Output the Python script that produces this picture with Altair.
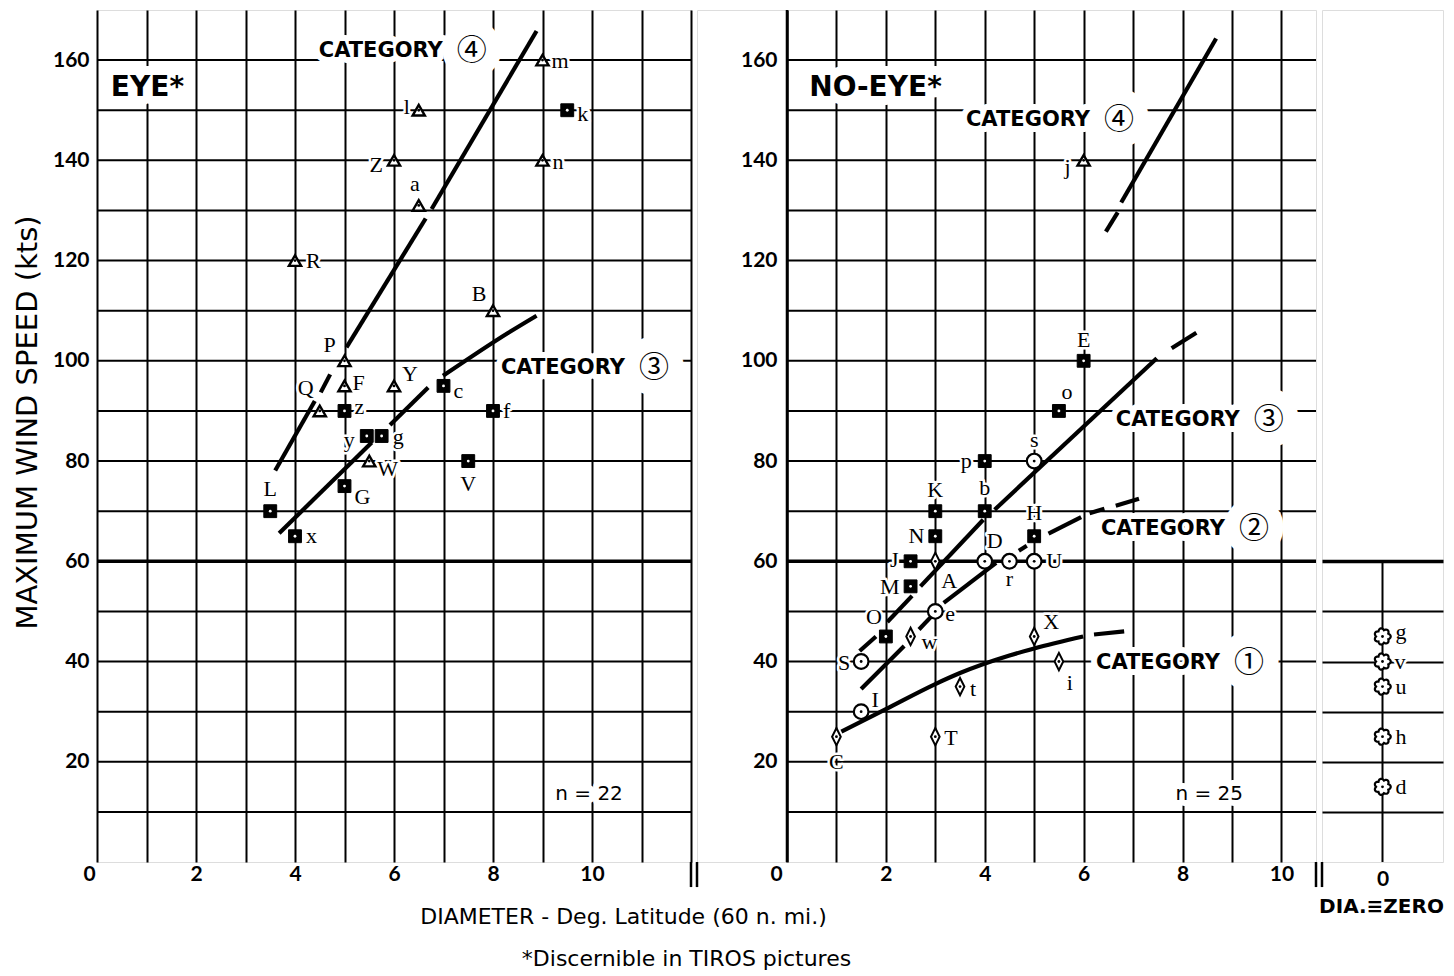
import math
import altair as alt
import pandas as pd

# ------------------------------------------------------------------ data
# EYE* panel : open triangles
eye_tri_lab = ["m", "l", "Z", "n", "a", "R", "B", "P", "Q", "F", "Y", "W"]
eye_tri_x = [9.0, 6.5, 6.0, 9.0, 6.5, 4.0, 8.0, 5.0, 4.5, 5.0, 6.0, 5.5]
eye_tri_y = [160, 150, 140, 140, 131, 120, 110, 100, 90, 95, 95, 80]
# EYE* panel : filled squares
eye_sq_lab = ["k", "z", "c", "f", "y", "g", "V", "G", "L", "x"]
eye_sq_x = [9.5, 5.0, 7.0, 8.0, 5.45, 5.75, 7.5, 5.0, 3.5, 4.0]
eye_sq_y = [150, 90, 95, 90, 85, 85, 80, 75, 70, 65]

# NO-EYE* panel
ne_tri_lab = ["j"]
ne_tri_x = [6.0]
ne_tri_y = [140]
ne_sq_lab = ["E", "o", "p", "K", "b", "H", "N", "J", "M", "O"]
ne_sq_x = [6.0, 5.5, 4.0, 3.0, 4.0, 5.0, 3.0, 2.5, 2.5, 2.0]
ne_sq_y = [100, 90, 80, 70, 70, 65, 65, 60, 55, 45]
ne_circ_lab = ["s", "D", "r", "U", "e", "S", "I"]
ne_circ_x = [5.0, 4.0, 4.5, 5.0, 3.0, 1.5, 1.5]
ne_circ_y = [80, 60, 60, 60, 50, 40, 30]
ne_dia_lab = ["A", "w", "X", "i", "t", "T", "C"]
ne_dia_x = [3.0, 2.5, 5.0, 5.5, 3.5, 3.0, 1.0]
ne_dia_y = [60, 45, 45, 40, 35, 25, 25]

# DIA = ZERO panel
zero_lab = ["g", "v", "u", "h", "d"]
zero_x = [0, 0, 0, 0, 0]
zero_y = [45, 40, 35, 25, 15]

# category curves, as drawn (broken into pieces)
eye_cat4 = [[(3.60, 78.1), (4.40, 92.0)], [(4.52, 93.7), (4.71, 97.3)],
            [(5.04, 102.7), (6.64, 128.4)], [(6.76, 130.3), (8.88, 165.8)]]
eye_cat3 = [[(3.68, 65.6), (5.55, 83.7)], [(5.92, 87.2), (6.69, 94.7)],
            [(6.99, 97.0), (8.31, 105.6), (8.88, 109.0)]]
ne_cat4 = [[(6.45, 125.8), (6.69, 129.6)], [(6.76, 131.6), (8.68, 164.3)]]
ne_cat3 = [[(1.47, 42.1), (1.80, 45.0)], [(2.03, 47.9), (2.53, 53.1)],
           [(2.70, 55.0), (3.97, 68.3)], [(4.20, 70.3), (7.48, 100.5)],
           [(7.78, 102.5), (8.28, 105.6)]]
ne_cat2 = [[(1.50, 34.5), (2.37, 43.1)], [(2.67, 46.4), (2.97, 49.5)],
           [(3.17, 51.7), (4.23, 59.7)], [(4.69, 62.1), (4.85, 63.1)],
           [(5.29, 65.5), (5.95, 68.8)], [(6.12, 69.6), (6.42, 70.5)],
           [(6.65, 71.1), (7.12, 72.5)]]
ne_cat1 = [[(1.10, 26.0), (2.0, 30.5), (3.0, 35.5), (3.5, 37.7), (4.5, 41.2), (5.0, 42.6),
            (5.99, 45.0)],
           [(6.21, 45.4), (6.82, 46.0)]]

# ticks / grid
eye_x_ticks = list(range(0, 13))
ne_x_ticks = list(range(0, 11))
zero_x_ticks = [0]
y_grid = list(range(10, 161, 10))
y_labels = list(range(20, 161, 20))
zero_grid = [10, 20, 30, 40, 50, 60]

# texts
y_title = "MAXIMUM WIND SPEED (kts)"
x_title = "DIAMETER - Deg. Latitude (60 n. mi.)"
footnote = "*Discernible in TIROS pictures"
zero_title = "DIA.\u2261ZERO"
eye_tag = ["EYE*"]
ne_tag = ["NO-EYE*"]
cat_word = "CATEGORY"
eye_cat_num = ["\u2463", "\u2462"]
ne_cat_num = ["\u2463", "\u2462", "\u2461", "\u2460"]
eye_n_text = ["n = 22"]
ne_n_text = ["n = 25"]

# ------------------------------------------------------------------ layout (annotation anchors / label offsets)
eye_tag_pos = [(0.28, 154.4)]
ne_tag_pos = [(0.45, 154.4)]
eye_cat_pos = [(4.48, 161.9), (8.16, 98.6)]
ne_cat_pos = [(3.62, 148.1), (6.65, 88.2), (6.35, 66.5), (6.25, 39.75)]
eye_n_pos = [(9.94, 13.6)]
ne_n_pos = [(8.54, 13.6)]

LT, RT, CT = "left", "right", "center"
eye_off = {
    "m": (9, 1, LT), "l": (-9, -3, RT), "k": (10, 4, LT), "Z": (-11, 5, RT), "n": (10, 2, LT),
    "a": (-4, -21, CT), "R": (11, 0, LT), "B": (-14, -17, CT), "P": (-15, -16, CT),
    "Q": (-14, -23, CT), "F": (8, -3, LT), "Y": (8, -12, LT), "z": (10, -4, LT),
    "c": (10, 5, LT), "f": (10, 0, LT), "y": (-12, 4, RT), "g": (11, 1, LT),
    "W": (8, 8, LT), "V": (0, 23, CT), "G": (10, 11, LT), "L": (0, -22, CT), "x": (11, 0, LT),
}
ne_off = {
    "j": (-13, 7, RT), "E": (0, -21, CT), "o": (8, -19, CT), "s": (0, -21, CT),
    "p": (-13, 0, RT), "K": (0, -21, CT), "b": (0, -23, CT), "H": (0, -23, CT),
    "N": (-11, 0, RT), "J": (-12, -1, RT), "A": (14, 20, CT), "D": (10, -20, CT),
    "r": (0, 18, CT), "U": (12, 0, LT), "M": (-11, 1, RT), "e": (10, 3, LT),
    "O": (-12, -19, CT), "w": (11, 6, LT), "X": (17, -14, CT), "S": (-11, 1, RT),
    "i": (11, 21, CT), "t": (10, 2, LT), "I": (14, -12, CT), "T": (9, 1, LT), "C": (0, 25, CT),
}
zero_off = {"g": (13, -4, LT), "v": (12, 0, LT), "u": (13, 0, LT), "h": (13, 0, LT), "d": (13, 0, LT)}

TICK_FONT = "Lato"
SERIF = "Liberation Serif"
SANS = "DejaVu Sans"
CJK = "Noto Sans CJK JP"

W1, W2, W3, H = 594, 619, 121, 852
X1 = alt.Scale(domain=[0, 12], nice=False, zero=False)
X2 = alt.Scale(domain=[-1.82, 10.7], nice=False, zero=False)
X3 = alt.Scale(domain=[-1.22, 1.22], nice=False, zero=False)
YS = alt.Scale(domain=[0, 170], nice=False, zero=False)

GW = 2.0
lab_style = dict(labelFont=TICK_FONT, labelFontWeight="bold", labelFontSize=21,
                 labelColor="black", labelOverlap=False, labelFlush=False, labelBound=False)
even_expr = "datum.value % 2 == 0 && datum.value <= 10 ? datum.label : ''"

ax1x = alt.Axis(values=eye_x_ticks, grid=True, gridColor="black", gridWidth=GW, gridOpacity=1,
                ticks=False, domain=False, labelExpr=even_expr, labelPadding=1,
                labelOffset=alt.condition("datum.value == 0", alt.value(-8), alt.value(0)),
                title=x_title, titleFont=SANS, titleFontSize=22, titleFontWeight="normal",
                titleColor="black", titleX=526, titleY=54, titleAlign="center",
                titleBaseline="middle", **lab_style)
ax1y = alt.Axis(values=y_labels, grid=False, ticks=False, domain=False, labelPadding=8,
                title=y_title, titleFont=SANS, titleFontSize=29, titleFontWeight="normal",
                titleColor="black", titlePadding=10, titleY=412, **lab_style)
ax2x = alt.Axis(values=ne_x_ticks, grid=True, gridColor="black", gridOpacity=1,
                gridWidth=alt.condition("datum.value == 0", alt.value(2.5), alt.value(GW)),
                ticks=False, domain=False, labelExpr=even_expr, labelPadding=1,
                labelOffset=alt.condition("datum.value == 0", alt.value(-11), alt.value(0)),
                title=footnote, titleFont=SANS, titleFontSize=22, titleFontWeight="normal",
                titleColor="black", titleX=-11, titleY=96, titleAlign="center",
                titleBaseline="middle", **lab_style)
ax2y = alt.Axis(values=y_labels, grid=False, ticks=False, domain=False, offset=-90,
                labelPadding=10, title=None, **lab_style)
ax3x = alt.Axis(values=zero_x_ticks, grid=False, ticks=False, domain=False, labelPadding=6,
                title=zero_title, titleFont=SANS, titleFontSize=20, titleFontWeight="bold",
                titleColor="black", titleX=59, titleY=44, titleAlign="center",
                titleBaseline="middle", **lab_style)
ax3y = alt.Axis(values=zero_grid, grid=True, gridColor="black", gridOpacity=1,
                gridWidth=alt.condition("datum.value == 60", alt.value(3.5), alt.value(GW)),
                labels=False, ticks=False, domain=False, title=None)


def E(xs, xa, ya):
    return dict(x=alt.X("x:Q", scale=xs, axis=xa), y=alt.Y("y:Q", scale=YS, axis=ya))


def pts(labs, xs, ys):
    return pd.DataFrame({"lab": labs, "x": xs, "y": ys})


def segs_df(segs):
    rows = []
    for i, seg in enumerate(segs):
        for j, (x, y) in enumerate(seg):
            rows.append({"seg": i, "ord": j, "x": x, "y": y})
    return pd.DataFrame(rows)


def cloud_path(bumps=7, n=70):
    c = []
    for k in range(n):
        th = 2 * math.pi * k / n
        r = 0.78 + 0.22 * abs(math.cos(bumps * th / 2))
        c.append(f"{r * math.cos(th):.3f},{r * math.sin(th):.3f}")
    return "M" + "L".join(c) + "Z"


DIAMOND = "M0,-1L0.5,0L0,1L-0.5,0Z"


def markers(df, kind, enc):
    base = alt.Chart(df).encode(**enc)
    if kind == "tri":
        outer = base.mark_point(shape="triangle-up", size=150, filled=True, fill="white",
                                stroke="black", strokeWidth=2.4, opacity=1)
        dot = "black"
    elif kind == "sq":
        outer = base.mark_point(shape="square", size=165, filled=True, fill="black",
                                stroke="black", strokeWidth=1, opacity=1)
        dot = "white"
    elif kind == "circ":
        outer = base.mark_point(shape="circle", size=215, filled=True, fill="white",
                                stroke="black", strokeWidth=2.2, opacity=1)
        dot = "black"
    elif kind == "dia":
        outer = base.mark_point(shape=DIAMOND, size=300, filled=True, fill="white",
                                stroke="black", strokeWidth=2, opacity=1)
        dot = "black"
    else:
        outer = base.mark_point(shape=cloud_path(), size=270, filled=True, fill="white",
                                stroke="black", strokeWidth=2.2, opacity=1)
        dot = "black"
    d = base.mark_point(shape="circle", size=8, filled=True, fill=dot, strokeWidth=0, opacity=1)
    return [outer, d]


def letters(df, offs, enc):
    groups = {}
    for lab in df["lab"]:
        groups.setdefault(offs[lab], []).append(lab)
    halos, texts = [], []
    for (dx, dy, al), labs in groups.items():
        b = alt.Chart(df).transform_filter(
            alt.FieldOneOfPredicate(field="lab", oneOf=labs)).encode(**enc, text="lab:N")
        kw = dict(dx=dx, dy=dy, align=al, baseline="middle", font=SERIF, fontSize=22)
        halos.append(b.mark_text(fill="white", stroke="white", strokeWidth=5,
                                 strokeJoin="round", **kw))
        texts.append(b.mark_text(color="black", **kw))
    return halos, texts


def annot(texts, pos, enc, font, size, weight, halo, align="left", dx=0):
    df = pd.DataFrame({"t": texts, "x": [p[0] for p in pos], "y": [p[1] for p in pos]})
    b = alt.Chart(df).encode(**enc, text="t:N")
    kw = dict(align=align, baseline="middle", font=font, fontSize=size, fontWeight=weight, dx=dx)
    return (b.mark_text(fill="white", stroke="white", strokeWidth=halo, strokeJoin="round", **kw),
            b.mark_text(color="black", **kw))


def category(nums, pos, enc):
    wh, wt = annot([cat_word] * len(nums), pos, enc, SANS, 21, "bold", 12)
    nh, nt = annot(nums, pos, enc, CJK, 30, "normal", 31, align="center", dx=153)
    return [wh, nh], [wt, nt]


def curves(seg_lists, enc):
    out = []
    for segs in seg_lists:
        out.append(alt.Chart(segs_df(segs)).mark_line(
            color="black", strokeWidth=4.2, strokeCap="butt", interpolate="monotone").encode(
            **enc, detail="seg:N", order="ord:Q"))
    return out


def vrule(xv, y0, y1, enc, width=2.5):
    df = pd.DataFrame({"x": [xv], "y": [y0], "y2": [y1]})
    return alt.Chart(df).mark_rule(color="black", strokeWidth=width).encode(**enc, y2="y2:Q")


def hgrid(x0, x1, enc):
    df = pd.DataFrame({"y": y_grid})
    df["x"] = x0
    df["x2"] = x1
    return alt.Chart(df).mark_rule(color="black").encode(
        **enc, x2="x2:Q",
        strokeWidth=alt.condition("datum.y == 60", alt.value(3.5), alt.value(GW)))


# ------------------------------------------------------------------ panel 1 : EYE*
E1 = E(X1, ax1x, ax1y)
df_eye_tri = pts(eye_tri_lab, eye_tri_x, eye_tri_y)
df_eye_sq = pts(eye_sq_lab, eye_sq_x, eye_sq_y)
df_eye_all = pd.concat([df_eye_tri, df_eye_sq], ignore_index=True)

t1h, t1t = annot(eye_tag, eye_tag_pos, E1, SANS, 28, "bold", 18)
c1h, c1t = category(eye_cat_num, eye_cat_pos, E1)
n1h, n1t = annot(eye_n_text, eye_n_pos, E1, SANS, 20, "normal", 12, align="center")
l1h, l1t = letters(df_eye_all, eye_off, E1)

p1_layers = ([hgrid(0.0, 12.0, E1), vrule(12, -5, 0, E1), t1h] + c1h + [n1h] + l1h
             + curves([eye_cat4, eye_cat3], E1)
             + markers(df_eye_tri, "tri", E1) + markers(df_eye_sq, "sq", E1)
             + l1t + [t1t] + c1t + [n1t])
p1 = alt.layer(*p1_layers).properties(width=W1, height=H)

# ------------------------------------------------------------------ panel 2 : NO-EYE*
E2 = E(X2, ax2x, ax2y)
df_ne_tri = pts(ne_tri_lab, ne_tri_x, ne_tri_y)
df_ne_sq = pts(ne_sq_lab, ne_sq_x, ne_sq_y)
df_ne_circ = pts(ne_circ_lab, ne_circ_x, ne_circ_y)
df_ne_dia = pts(ne_dia_lab, ne_dia_x, ne_dia_y)
df_ne_all = pd.concat([df_ne_tri, df_ne_sq, df_ne_circ, df_ne_dia], ignore_index=True)

t2h, t2t = annot(ne_tag, ne_tag_pos, E2, SANS, 28, "bold", 18)
c2h, c2t = category(ne_cat_num, ne_cat_pos, E2)
n2h, n2t = annot(ne_n_text, ne_n_pos, E2, SANS, 20, "normal", 12, align="center")
l2h, l2t = letters(df_ne_all, ne_off, E2)

p2_layers = ([hgrid(0.0, 10.7, E2), vrule(0, 0, 170, E2), vrule(-1.82, -5, 0, E2),
              vrule(10.7, -5, 0, E2), t2h] + c2h + [n2h] + l2h
             + curves([ne_cat4, ne_cat3, ne_cat2, ne_cat1], E2)
             + markers(df_ne_tri, "tri", E2) + markers(df_ne_sq, "sq", E2)
             + markers(df_ne_circ, "circ", E2) + markers(df_ne_dia, "dia", E2)
             + l2t + [t2t] + c2t + [n2t])
p2 = alt.layer(*p2_layers).properties(width=W2, height=H)

# ------------------------------------------------------------------ panel 3 : DIA = ZERO
E3 = E(X3, ax3x, ax3y)
df_zero = pts(zero_lab, zero_x, zero_y)
l3h, l3t = letters(df_zero, zero_off, E3)
p3_layers = ([vrule(0, 0, 60, E3, width=GW), vrule(-1.22, -5, 0, E3)] + l3h
             + markers(df_zero, "cloud", E3) + l3t)
p3 = alt.layer(*p3_layers).properties(width=W3, height=H)

chart = alt.hconcat(p1, p2, p3, spacing=6, bounds="flush",
                    padding={"left": 4, "top": 0, "right": 0, "bottom": 0}).resolve_scale(
    x="independent", y="independent").configure_view(
    stroke="black", strokeWidth=2.5).configure(background="white")

chart.save("out.html", embed_options={"renderer": "svg", "actions": False})
